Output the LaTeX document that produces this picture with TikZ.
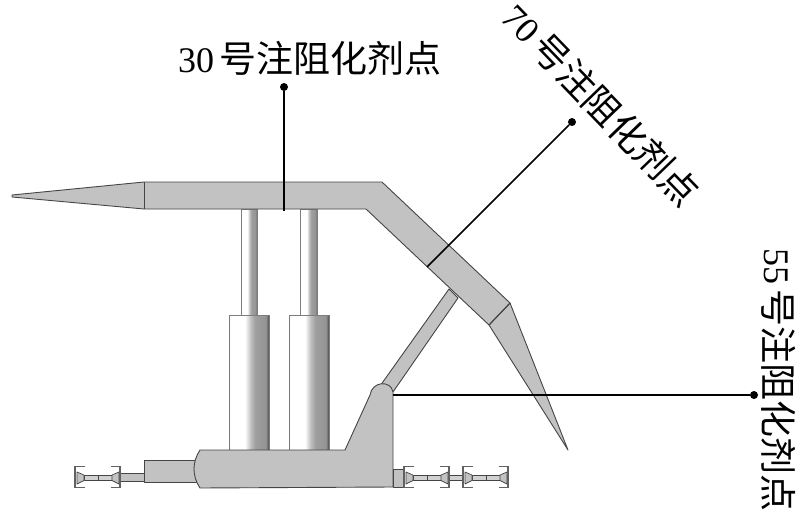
\documentclass[tikz,border=0pt]{standalone}
\usepackage{fontspec}
\setmainfont{Liberation Serif}
\newfontfamily\cjk{Noto Sans CJK SC}
\usetikzlibrary{positioning}
\definecolor{steel}{gray}{0.76}
\definecolor{edge}{gray}{0.27}
\pgfdeclarehorizontalshading{cylshade}{100bp}{
  color(0bp)=(white); color(25bp)=(black!6); color(27bp)=(white); color(45bp)=(white);
  color(52bp)=(black!25); color(58bp)=(black!38); color(71bp)=(black!42);
  color(73bp)=(black!55); color(75bp)=(black!75); color(100bp)=(black!75)}
\newcommand{\pointlabel}[1]{{\fontsize{36}{36}\selectfont #1}\hspace{5pt}{\fontsize{37}{37}\cjk 号注阻化剂点}}
\tikzset{
  part/.style={draw=edge, fill=steel, line width=0.9pt, line join=round},
  thin part/.style={part, line width=0.7pt, fill=black!18},
  cylinder part/.style={draw=edge!70, line width=0.8pt, shading=cylshade},
  rail/.style={draw=black!62, line width=1.5pt},
  leader/.style={draw=black, line width=1.7pt},
  leaderdot/.style={circle, fill=black, inner sep=0pt, minimum size=8pt},
  tag/.style={inner sep=0pt},
  railunit/.pic={
    \draw[thin part] (10,9) rectangle (38,14.5);
    \draw[edge, line width=1pt] (24,9) -- (24,14.5);
    \draw[part, line width=0.7pt] (3,6) -- (10,9) -- (10,14.5) -- (3,18) -- cycle;
    \draw[part, line width=0.7pt] (45,6) -- (38,9) -- (38,14.5) -- (45,18) -- cycle;
    \draw[rail] (11,0.5) -- (1,0.5) -- (1,21.5) -- (11,21.5);
    \draw[rail] (37,0.5) -- (46,0.5) -- (46,21.5) -- (37,21.5);
  }
}
\begin{document}
\begin{tikzpicture}[x=1pt, y=-1pt]
  \useasboundingbox (0,0) rectangle (800,516);
  % Props
  \path[cylinder part] (241,209) rectangle (257,315);
  \path[cylinder part] (300,209) rectangle (317,315);
  \path[cylinder part] (229,315) rectangle (269,450);
  \path[cylinder part] (289,315) rectangle (329,450);
  % Canopy
  \draw[part] (449,289) -- (458,298) -- (393,392) -- (380,386) -- cycle;
  \draw[part] (510,303) -- (489,325) -- (568,450) -- cycle;
  \draw[part] (12,195) -- (144,182) -- (382,182) -- (510,303) -- (489,325) -- (366,209) -- (144,209) -- (12,197) -- cycle;
  \draw[edge, line width=0.9pt] (144,182) -- (144,209);
  % Base
  \draw[part] (120,473) rectangle (144,481);
  \draw[part] (144,460) rectangle (196,482);
  \draw[part] (200,450) -- (345,450) -- (370,395) .. controls (372,381) and (391,380) .. (393,392) -- (393,487) -- (200,488) .. controls (192,476) and (192,462) .. (200,450) -- cycle;
  \draw[part] (393,469) rectangle (404,487);
  \draw[thin part] (449,475) rectangle (463,480.5);
  % Rails
  \pic at (74,466) {railunit};
  \pic at (403,466) {railunit};
  \pic at (462,466) {railunit};
  % Labels
  \node[tag, anchor=west] (tag30) at (178,58) {\pointlabel{30}};
  \node[tag, anchor=west, rotate=-46] (tag70) at (510,10) {\pointlabel{70}};
  \node[tag, anchor=west, rotate=-90] (tag55) at (779,248) {\pointlabel{55}};
  \node[leaderdot] (dot30) at (284,87) {};
  \node[leaderdot] (dot70) at (572,122) {};
  \node[leaderdot] (dot55) at (754,395) {};
  \coordinate (foot30) at (284,211);
  \coordinate (foot70) at (427,267);
  \coordinate (foot55) at (393,395);
  % Leaders
  \draw[leader] (dot30) -- (foot30);
  \draw[leader] (dot70) -- (foot70);
  \draw[leader] (dot55) -- (foot55);
  \draw[edge, line width=1pt] (510,303) -- (489,325);
\end{tikzpicture}
\end{document}
